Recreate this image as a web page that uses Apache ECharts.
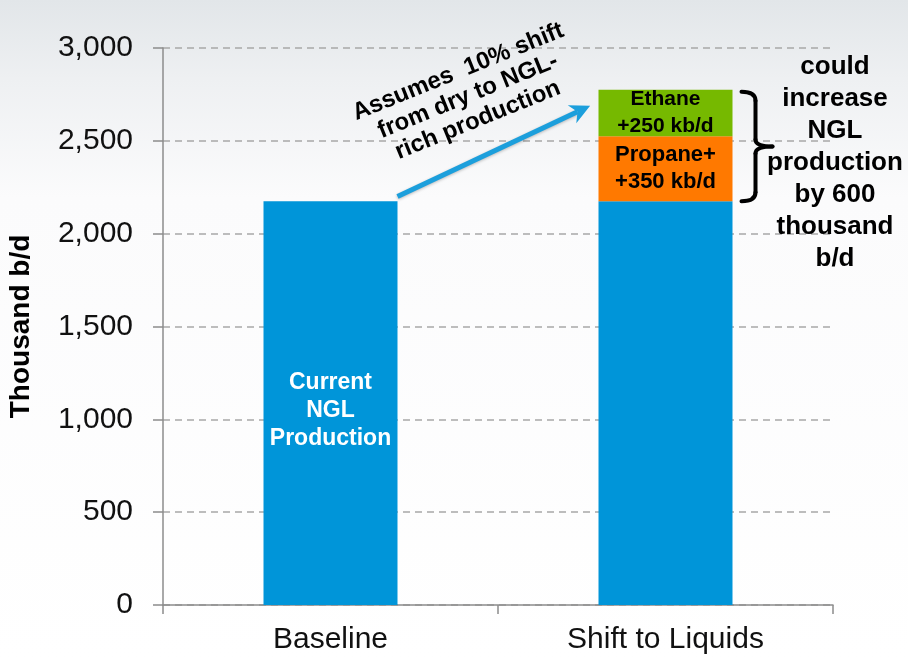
<!DOCTYPE html>
<html>
<head>
<meta charset="utf-8">
<script src="https://cdn.jsdelivr.net/npm/echarts@6/dist/echarts.min.js"></script>
<style>
    html, body { margin: 0; padding: 0; background: #fff; }
    #chart { width: 908px; height: 658px; }
</style>
</head>
<body>
<div id="chart"></div>
<script>
var categories = ['Baseline', 'Shift to Liquids'];
var currentNgl = [2175, 2175];
var propanePlus = [0, 350];
var ethane = [0, 250];
var barLabels = {
    current: ['Current\nNGL\nProduction', ''],
    propane: ['', 'Propane+\n+350 kb/d'],
    ethane: ['', 'Ethane\n+250 kb/d']
};
var arrowText = 'Assumes  10% shift\nfrom dry to NGL-\nrich production';
var sideText = 'could\nincrease\nNGL\nproduction\nby 600\nthousand\nb/d';

var FONT = "'Liberation Sans', Arial, sans-serif";

function toData(values, labels) {
    var list = [];
    for (var i = 0; i < values.length; i++) {
        list.push({
            value: values[i],
            label: {show: !!labels[i], formatter: labels[i]}
        });
    }
    return list;
}

var chart = echarts.init(document.getElementById('chart'));

var option = {
    animation: false,
    textStyle: {fontFamily: FONT},
    grid: {left: 163, right: 75, top: 48, bottom: 53, outerBoundsMode: 'none', containLabel: false},
    xAxis: {
        type: 'category',
        data: categories,
        axisLine: {lineStyle: {color: '#8c8c8c', width: 1.5}},
        axisTick: {show: true, length: 9, lineStyle: {color: '#8c8c8c', width: 1.5}},
        axisLabel: {color: '#111', fontSize: 30, margin: 20, fontFamily: FONT}
    },
    yAxis: {
        type: 'value',
        min: 0,
        max: 3000,
        interval: 500,
        name: 'Thousand b/d',
        nameLocation: 'middle',
        nameGap: 128,
        nameTextStyle: {fontSize: 28, fontWeight: 'bold', color: '#000', fontFamily: FONT},
        axisLine: {show: true, lineStyle: {color: '#8c8c8c', width: 1.5}},
        axisTick: {show: true, length: 10, lineStyle: {color: '#8c8c8c', width: 1.5}},
        axisLabel: {
            color: '#111', fontSize: 30, margin: 30, fontFamily: FONT,
            formatter: function (v) { return v.toLocaleString('en-US'); }
        },
        splitLine: {lineStyle: {color: '#a8a8a8', width: 1.5, type: [7, 5]}}
    },
    series: [
        {
            name: 'Current NGL Production',
            type: 'bar',
            stack: 'ngl',
            barWidth: 134,
            itemStyle: {color: '#0095d9'},
            label: {
                position: 'inside', offset: [0, 8], color: '#fff', fontWeight: 'bold',
                fontSize: 23, lineHeight: 28, fontFamily: FONT
            },
            data: toData(currentNgl, barLabels.current)
        },
        {
            name: 'Propane+',
            type: 'bar',
            stack: 'ngl',
            barWidth: 134,
            itemStyle: {color: '#ff7900'},
            label: {
                position: 'inside', color: '#000', fontWeight: 'bold',
                fontSize: 22, lineHeight: 27, fontFamily: FONT
            },
            data: toData(propanePlus, barLabels.propane)
        },
        {
            name: 'Ethane',
            type: 'bar',
            stack: 'ngl',
            barWidth: 134,
            itemStyle: {color: '#76b900'},
            label: {
                position: 'inside', color: '#000', fontWeight: 'bold',
                fontSize: 21, lineHeight: 27, fontFamily: FONT
            },
            data: toData(ethane, barLabels.ethane)
        }
    ]
};
chart.setOption(option);

// annotation placement, read back from the chart's own scales
var halfBar = 67;
var baseTop = chart.convertToPixel({gridIndex: 0}, [categories[0], currentNgl[0] + 25]);
var shiftTop = chart.convertToPixel({gridIndex: 0}, [categories[1], currentNgl[1] + propanePlus[1] + ethane[1]]);
var shiftBase = chart.convertToPixel({gridIndex: 0}, [categories[1], currentNgl[1]]);
var arrowEndPx = chart.convertToPixel({gridIndex: 0}, [categories[1], 2680]);

var ax0 = baseTop[0] + halfBar, ay0 = baseTop[1];
var ax1 = arrowEndPx[0] - halfBar - 12, ay1 = arrowEndPx[1];
var dx = ax1 - ax0, dy = ay1 - ay0, len = Math.sqrt(dx * dx + dy * dy);
var ux = dx / len, uy = dy / len, px = -uy, py = ux;

var bx = shiftTop[0] + halfBar + 9;
var vx = bx + 14;
var topY = shiftTop[1] + 2, botY = shiftBase[1], midY = (topY + botY) / 2;
var bracketStyle = {stroke: '#000', lineWidth: 4, fill: null, lineCap: 'round'};

chart.setOption({
    graphic: [
        {
            type: 'rect', z: -100, silent: true,
            shape: {x: 0, y: 0, width: 908, height: 658},
            style: {
                fill: {
                    type: 'linear', x: 0, y: 0, x2: 0, y2: 1,
                    colorStops: [
                        {offset: 0, color: '#e2e6e9'},
                        {offset: 0.12, color: '#eef0f2'},
                        {offset: 0.3, color: '#fbfbfc'},
                        {offset: 1, color: '#ffffff'}
                    ]
                }
            }
        },
        {
            type: 'line', z: 50,
            shape: {x1: ax0, y1: ay0, x2: ax1 - ux * 10, y2: ay1 - uy * 10},
            style: {stroke: '#1c9fdc', lineWidth: 5, shadowBlur: 3, shadowColor: 'rgba(0,0,0,0.25)', shadowOffsetY: 1}
        },
        {
            type: 'polygon', z: 51,
            shape: {
                points: [
                    [ax1 + ux * 4, ay1 + uy * 4],
                    [ax1 - ux * 16 + px * 10, ay1 - uy * 16 + py * 10],
                    [ax1 - ux * 10, ay1 - uy * 10],
                    [ax1 - ux * 16 - px * 10, ay1 - uy * 16 - py * 10]
                ]
            },
            style: {fill: '#1c9fdc'}
        },
        {
            type: 'text', z: 52,
            x: (ax0 + ax1) / 2 - 24, y: (ay0 + ay1) / 2 - 56,
            rotation: 0.385,
            style: {
                text: arrowText, align: 'center', verticalAlign: 'middle',
                font: 'bold 24px ' + FONT, lineHeight: 26, fill: '#000'
            }
        },
        {
            type: 'group', z: 50,
            children: [
                {type: 'bezierCurve', shape: {x1: bx, y1: topY, x2: vx, y2: topY + 9, cpx1: vx, cpy1: topY}, style: bracketStyle},
                {type: 'line', shape: {x1: vx, y1: topY + 9, x2: vx, y2: midY - 7}, style: bracketStyle},
                {type: 'bezierCurve', shape: {x1: vx, y1: midY - 7, x2: vx + 17, y2: midY, cpx1: vx, cpy1: midY}, style: bracketStyle},
                {type: 'bezierCurve', shape: {x1: vx + 17, y1: midY, x2: vx, y2: midY + 7, cpx1: vx, cpy1: midY}, style: bracketStyle},
                {type: 'line', shape: {x1: vx, y1: midY + 7, x2: vx, y2: botY - 9}, style: bracketStyle},
                {type: 'bezierCurve', shape: {x1: vx, y1: botY - 9, x2: bx, y2: botY, cpx1: vx, cpy1: botY}, style: bracketStyle}
            ]
        },
        {
            type: 'text', z: 50,
            x: 835, y: 163,
            style: {
                text: sideText, align: 'center', verticalAlign: 'middle',
                font: 'bold 26px ' + FONT, lineHeight: 32, fill: '#000'
            }
        }
    ]
});
</script>
</body>
</html>
